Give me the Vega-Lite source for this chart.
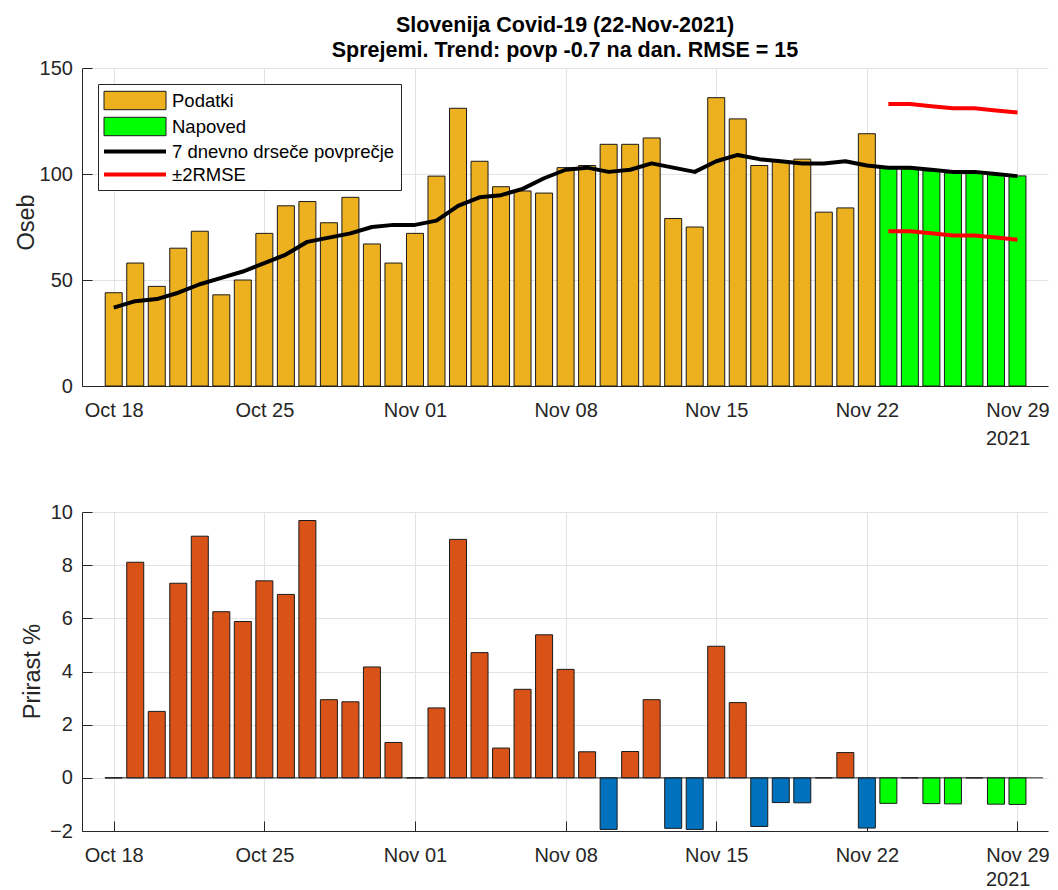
{
  "$schema": "https://vega.github.io/schema/vega-lite/v6.json",
  "padding": {"left": 14, "top": 14, "right": 5, "bottom": 0},
  "background": "white",
  "datasets": {
    "dni": [
      {"d": "2021/10/18", "v": 44, "p": 37, "g": 0, "n": false},
      {"d": "2021/10/19", "v": 58, "p": 40, "g": 8.11, "n": false},
      {"d": "2021/10/20", "v": 47, "p": 41, "g": 2.5, "n": false},
      {"d": "2021/10/21", "v": 65, "p": 44, "g": 7.32, "n": false},
      {"d": "2021/10/22", "v": 73, "p": 48, "g": 9.09, "n": false},
      {"d": "2021/10/23", "v": 43, "p": 51, "g": 6.25, "n": false},
      {"d": "2021/10/24", "v": 50, "p": 54, "g": 5.88, "n": false},
      {"d": "2021/10/25", "v": 72, "p": 58, "g": 7.41, "n": false},
      {"d": "2021/10/26", "v": 85, "p": 62, "g": 6.9, "n": false},
      {"d": "2021/10/27", "v": 87, "p": 68, "g": 9.68, "n": false},
      {"d": "2021/10/28", "v": 77, "p": 70, "g": 2.94, "n": false},
      {"d": "2021/10/29", "v": 89, "p": 72, "g": 2.86, "n": false},
      {"d": "2021/10/30", "v": 67, "p": 75, "g": 4.17, "n": false},
      {"d": "2021/10/31", "v": 58, "p": 76, "g": 1.33, "n": false},
      {"d": "2021/11/01", "v": 72, "p": 76, "g": 0, "n": false},
      {"d": "2021/11/02", "v": 99, "p": 78, "g": 2.63, "n": false},
      {"d": "2021/11/03", "v": 131, "p": 85, "g": 8.97, "n": false},
      {"d": "2021/11/04", "v": 106, "p": 89, "g": 4.71, "n": false},
      {"d": "2021/11/05", "v": 94, "p": 90, "g": 1.12, "n": false},
      {"d": "2021/11/06", "v": 92, "p": 93, "g": 3.33, "n": false},
      {"d": "2021/11/07", "v": 91, "p": 98, "g": 5.38, "n": false},
      {"d": "2021/11/08", "v": 103, "p": 102, "g": 4.08, "n": false},
      {"d": "2021/11/09", "v": 104, "p": 103, "g": 0.98, "n": false},
      {"d": "2021/11/10", "v": 114, "p": 101, "g": -1.94, "n": false},
      {"d": "2021/11/11", "v": 114, "p": 102, "g": 0.99, "n": false},
      {"d": "2021/11/12", "v": 117, "p": 105, "g": 2.94, "n": false},
      {"d": "2021/11/13", "v": 79, "p": 103, "g": -1.9, "n": false},
      {"d": "2021/11/14", "v": 75, "p": 101, "g": -1.94, "n": false},
      {"d": "2021/11/15", "v": 136, "p": 106, "g": 4.95, "n": false},
      {"d": "2021/11/16", "v": 126, "p": 109, "g": 2.83, "n": false},
      {"d": "2021/11/17", "v": 104, "p": 107, "g": -1.83, "n": false},
      {"d": "2021/11/18", "v": 106, "p": 106, "g": -0.93, "n": false},
      {"d": "2021/11/19", "v": 107, "p": 105, "g": -0.94, "n": false},
      {"d": "2021/11/20", "v": 82, "p": 105, "g": 0, "n": false},
      {"d": "2021/11/21", "v": 84, "p": 106, "g": 0.95, "n": false},
      {"d": "2021/11/22", "v": 119, "p": 104, "g": -1.89, "n": false},
      {"d": "2021/11/23", "v": 103, "p": 103, "g": -0.96, "n": true, "zg": 133, "sp": 73},
      {"d": "2021/11/24", "v": 102.5, "p": 103, "g": 0, "n": true, "zg": 133, "sp": 73},
      {"d": "2021/11/25", "v": 101.5, "p": 102, "g": -0.97, "n": true, "zg": 132, "sp": 72},
      {"d": "2021/11/26", "v": 100.5, "p": 101, "g": -0.98, "n": true, "zg": 131, "sp": 71},
      {"d": "2021/11/27", "v": 100.2, "p": 101, "g": 0, "n": true, "zg": 131, "sp": 71},
      {"d": "2021/11/28", "v": 99.7, "p": 100, "g": -0.99, "n": true, "zg": 130, "sp": 70},
      {"d": "2021/11/29", "v": 99.1, "p": 99, "g": -1.0, "n": true, "zg": 129, "sp": 69}
    ],
    "legenda": [
      {"s": "Podatki"}, {"s": "Napoved"}, {"s": "7 dnevno drseče povprečje"}, {"s": "±2RMSE"}
    ]
  },
  "config": {
    "font": "Liberation Sans",
    "view": {"stroke": null},
    "axis": {
      "domainColor": "#262626",
      "domainWidth": 1,
      "tickColor": "#262626",
      "tickSize": -10,
      "tickWidth": 1,
      "labelColor": "#262626",
      "labelFont": "Liberation Sans",
      "labelFontSize": 20,
      "grid": true,
      "gridColor": "#e3e3e3",
      "gridWidth": 1,
      "titleFont": "Liberation Sans",
      "titleFontWeight": "normal",
      "titleColor": "#262626"
    },
    "axisX": {"labelBaseline": "alphabetic", "labelPadding": 40, "labelFlush": false, "labelOverlap": false},
    "axisY": {"labelPadding": 19.6},
    "legend": {
      "orient": "top-left",
      "offset": 16,
      "padding": 6,
      "fillColor": "white",
      "strokeColor": "#262626",
      "strokeWidth": 1,
      "cornerRadius": 0,
      "labelFont": "Liberation Sans",
      "labelFontSize": 18.5,
      "labelColor": "#000000",
      "labelLimit": 400,
      "labelOffset": 47,
      "symbolSize": 400,
      "symbolStrokeWidth": 1,
      "rowPadding": 3
    },
    "title": {
      "font": "Liberation Sans",
      "fontSize": 21.5,
      "fontWeight": "bold",
      "color": "#000000",
      "lineHeight": 25,
      "anchor": "middle",
      "offset": -3
    }
  },
  "spacing": 54,
  "resolve": {
    "scale": {"fill": "independent", "stroke": "independent", "shape": "independent"},
    "legend": {"fill": "independent", "stroke": "independent", "shape": "independent"}
  },
  "vconcat": [
    {
      "width": 966,
      "height": 318,
      "title": {"text": ["Slovenija Covid-19 (22-Nov-2021)", "Sprejemi. Trend: povp -0.7 na dan. RMSE = 15"]},
      "layer": [
        {
          "data": {"name": "dni"},
          "mark": {"type": "bar", "width": 17, "stroke": "#1a1a1a", "strokeWidth": 1},
          "encoding": {
            "x": {
              "field": "d", "type": "temporal",
              "scale": {"domain": [{"year": 2021, "month": 10, "date": 16, "hours": 18, "minutes": 12}, {"year": 2021, "month": 11, "date": 30, "hours": 4, "minutes": 28}]},
              "axis": {
                "values": [
                  {"year": 2021, "month": 10, "date": 18}, {"year": 2021, "month": 10, "date": 25},
                  {"year": 2021, "month": 11, "date": 1}, {"year": 2021, "month": 11, "date": 8},
                  {"year": 2021, "month": 11, "date": 15}, {"year": 2021, "month": 11, "date": 22},
                  {"year": 2021, "month": 11, "date": 29}
                ],
                "format": "%b %d",
                "title": "2021",
                "titleFontSize": 20,
                "titleX": 948,
                "titleY": 58,
                "titleAlign": "right",
                "titleBaseline": "alphabetic",
                "titleAngle": 0
              }
            },
            "y": {
              "field": "v", "type": "quantitative",
              "scale": {"domain": [0, 150], "nice": false},
              "axis": {
                "values": [0, 50, 100, 150],
                "title": "Oseb",
                "titleFontSize": 23.5,
                "titleX": -49,
                "titleY": 154,
                "titleAngle": -90,
                "titleAlign": "center",
                "titleBaseline": "alphabetic"
              }
            },
            "color": {"condition": {"test": "datum.n", "value": "#00FF00"}, "value": "#EDB120"}
          }
        },
        {
          "data": {"name": "dni"},
          "mark": {"type": "line", "color": "#000000", "strokeWidth": 4, "strokeJoin": "round"},
          "encoding": {
            "x": {"field": "d", "type": "temporal"},
            "y": {"field": "p", "type": "quantitative"}
          }
        },
        {
          "data": {"name": "dni"},
          "mark": {"type": "line", "color": "#FF0000", "strokeWidth": 4, "strokeJoin": "round"},
          "encoding": {
            "x": {"field": "d", "type": "temporal"},
            "y": {"field": "zg", "type": "quantitative"}
          }
        },
        {
          "data": {"name": "dni"},
          "mark": {"type": "line", "color": "#FF0000", "strokeWidth": 4, "strokeJoin": "round"},
          "encoding": {
            "x": {"field": "d", "type": "temporal"},
            "y": {"field": "sp", "type": "quantitative"}
          }
        },
        {
          "data": {"name": "legenda"},
          "transform": [{"filter": "false"}],
          "mark": {"type": "point", "filled": true, "opacity": 1},
          "encoding": {
            "fill": {
              "field": "s", "type": "nominal",
              "scale": {"domain": ["Podatki", "Napoved", "7 dnevno drseče povprečje", "±2RMSE"], "range": ["#EDB120", "#00FF00", "#000000", "#FF0000"]},
              "legend": {"title": null}
            },
            "stroke": {
              "field": "s", "type": "nominal",
              "scale": {"domain": ["Podatki", "Napoved", "7 dnevno drseče povprečje", "±2RMSE"], "range": ["#1a1a1a", "#1a1a1a", "transparent", "transparent"]},
              "legend": {"title": null}
            },
            "shape": {
              "field": "s", "type": "nominal",
              "scale": {"domain": ["Podatki", "Napoved", "7 dnevno drseče povprečje", "±2RMSE"], "range": ["M-1.05,-0.92H5.15V0.92H-1.05Z", "M-1.05,-0.92H5.15V0.92H-1.05Z", "M-1.05,-0.2H5.15V0.2H-1.05Z", "M-1.05,-0.2H5.15V0.2H-1.05Z"]},
              "legend": {"title": null}
            }
          }
        }
      ]
    },
    {
      "width": 966,
      "height": 319,
      "layer": [
        {
          "data": {"name": "dni"},
          "mark": {"type": "bar", "width": 17, "stroke": "#1a1a1a", "strokeWidth": 1},
          "encoding": {
            "x": {
              "field": "d", "type": "temporal",
              "scale": {"domain": [{"year": 2021, "month": 10, "date": 16, "hours": 18, "minutes": 12}, {"year": 2021, "month": 11, "date": 30, "hours": 4, "minutes": 28}]},
              "axis": {
                "values": [
                  {"year": 2021, "month": 10, "date": 18}, {"year": 2021, "month": 10, "date": 25},
                  {"year": 2021, "month": 11, "date": 1}, {"year": 2021, "month": 11, "date": 8},
                  {"year": 2021, "month": 11, "date": 15}, {"year": 2021, "month": 11, "date": 22},
                  {"year": 2021, "month": 11, "date": 29}
                ],
                "format": "%b %d",
                "title": "2021",
                "titleFontSize": 20,
                "titleX": 948,
                "titleY": 54,
                "titleAlign": "right",
                "titleBaseline": "alphabetic",
                "titleAngle": 0
              }
            },
            "y": {
              "field": "g", "type": "quantitative",
              "scale": {"domain": [-2, 10], "nice": false},
              "axis": {
                "values": [-2, 0, 2, 4, 6, 8, 10],
                "title": "Prirast %",
                "titleFontSize": 23.5,
                "titleX": -42.3,
                "titleY": 159,
                "titleAngle": -90,
                "titleAlign": "center",
                "titleBaseline": "alphabetic"
              }
            },
            "color": {
              "condition": [
                {"test": "datum.n", "value": "#00FF00"},
                {"test": "datum.g < 0", "value": "#0072BD"}
              ],
              "value": "#D95319"
            }
          }
        },
        {
          "data": {"values": [{}]},
          "mark": {"type": "rule", "color": "#262626", "strokeWidth": 1},
          "encoding": {
            "x": {"datum": {"year": 2021, "month": 10, "date": 17, "hours": 14}, "type": "temporal"},
            "x2": {"datum": {"year": 2021, "month": 11, "date": 30, "hours": 4, "minutes": 28}},
            "y": {"datum": 0, "type": "quantitative"}
          }
        }
      ]
    }
  ]
}
